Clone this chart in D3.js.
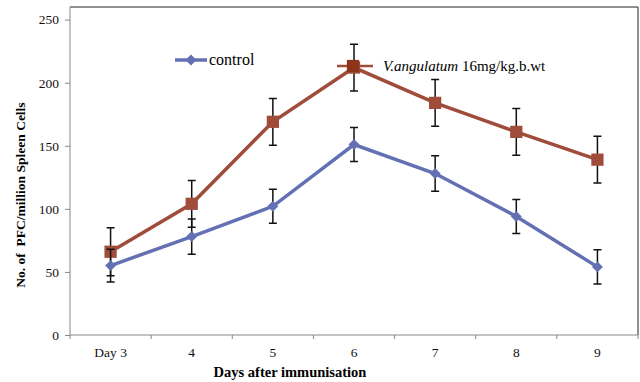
<!DOCTYPE html>
<html>
<head>
<meta charset="utf-8">
<script src="https://cdn.jsdelivr.net/npm/d3@7"></script>
<style>
  body { margin: 0; background: #fff; }
  svg text { font-family: "Liberation Serif", "DejaVu Serif", serif !important; }
</style>
</head>
<body>
<div id="chart"></div>
<script>
// data
const days = ['Day 3', '4', '5', '6', '7', '8', '9'];
const controlVals = [55, 78, 102, 151, 128, 94, 54];
const controlErr = [13, 14, 13.5, 13.5, 14, 13.5, 13.5];
const treatVals = [66, 104, 169, 212, 184, 161, 139];
const treatErr = [19, 18.5, 18.5, 18.5, 18.5, 18.5, 18.5];
const yTicks = [0, 50, 100, 150, 200, 250];

const width = 640, height = 382;
const margin = {top: 7, right: 2, bottom: 47, left: 70};
const graphWidth = width - margin.left - margin.right;
const graphHeight = height - margin.top - margin.bottom;

const serif = '"Liberation Serif", serif';
const blue = '#6470b4';
const brown = '#a04c3a';

const svg = d3.select('#chart')
  .append('svg')
  .attr('width', width)
  .attr('height', height)
  .attr('font-family', serif);

const graph = svg.append('g')
  .attr('transform', `translate(${margin.left}, ${margin.top})`);

// scales
const x = d3.scaleBand().domain(days).range([0, graphWidth]);
const y = d3.scaleLinear().domain([0, 260]).range([graphHeight, 0]);

// frame (top + right)
graph.append('path')
  .attr('d', `M0,0H${graphWidth}V${graphHeight}`)
  .attr('fill', 'none')
  .attr('stroke', '#222')
  .attr('stroke-width', 1);

// axes
const xAxis = d3.axisBottom(x).tickSize(0).tickPadding(12);
const yAxis = d3.axisLeft(y).tickValues(yTicks).tickSize(5).tickPadding(6);

const xAxisGroup = graph.append('g')
  .attr('transform', `translate(0, ${graphHeight})`)
  .call(xAxis)
  .attr('font-family', serif);
xAxisGroup.select('.domain').attr('stroke', '#888').attr('d', `M0,0H${graphWidth}`);
xAxisGroup.selectAll('text').attr('font-size', 13.5).attr('fill', '#111');

// band boundary ticks
graph.append('g')
  .selectAll('line')
  .data(d3.range(days.length + 1))
  .enter()
  .append('line')
    .attr('x1', i => i * x.step())
    .attr('x2', i => i * x.step())
    .attr('y1', graphHeight)
    .attr('y2', graphHeight + 4)
    .attr('stroke', '#888');

const yAxisGroup = graph.append('g').call(yAxis).attr('font-family', serif);
yAxisGroup.select('.domain').attr('stroke', '#888').attr('d', `M0,0V${graphHeight}`);
yAxisGroup.selectAll('.tick line').attr('stroke', '#888');
yAxisGroup.selectAll('text').attr('font-size', 13.5).attr('fill', '#111');

// axis titles
svg.append('text')
  .attr('x', 290)
  .attr('y', 377)
  .attr('text-anchor', 'middle')
  .attr('font-size', 14.5)
  .attr('font-weight', 'bold')
  .text('Days after immunisation');

svg.append('text')
  .attr('transform', 'translate(25, 195) rotate(-90)')
  .attr('text-anchor', 'middle')
  .attr('font-size', 13.5)
  .attr('font-weight', 'bold')
  .style('white-space', 'pre')
  .text('No. of  PFC/million Spleen Cells');

const cx = (d, i) => x(days[i]) + x.bandwidth() / 2;

// rotated square for the control series
const diamond = d3.symbol().type(d3.symbolSquare).size(60);

const drawSeries = (vals, errs, color, isSquare) => {
  const line = d3.line()
    .x((d, i) => cx(d, i))
    .y(d => y(d));

  graph.append('path')
    .datum(vals)
    .attr('fill', 'none')
    .attr('stroke', color)
    .attr('stroke-width', 3.5)
    .attr('d', line);

  // error bars
  const eb = graph.append('g');
  vals.forEach((v, i) => {
    const px = cx(v, i);
    const top = y(v + errs[i]), bot = y(v - errs[i]);
    eb.append('path')
      .attr('d', `M${px},${top}V${bot}M${px - 4},${top}H${px + 4}M${px - 4},${bot}H${px + 4}`)
      .attr('stroke', '#111')
      .attr('stroke-width', 1.5)
      .attr('fill', 'none');
  });

  graph.append('g')
    .selectAll('path')
    .data(vals)
    .enter()
    .append('path')
      .attr('transform', (d, i) => isSquare
        ? `translate(${cx(d, i)}, ${y(d)})`
        : `translate(${cx(d, i)}, ${y(d)}) rotate(45)`)
      .attr('d', isSquare ? d3.symbol().type(d3.symbolSquare).size(150) : diamond)
      .attr('fill', color);
};

drawSeries(treatVals, treatErr, brown, true);
drawSeries(controlVals, controlErr, blue, false);

// legend
const legend = svg.append('g');
legend.append('line')
  .attr('x1', 175).attr('x2', 207).attr('y1', 60).attr('y2', 60)
  .attr('stroke', blue).attr('stroke-width', 3.5);
legend.append('path')
  .attr('transform', 'translate(191, 60) rotate(45)')
  .attr('d', diamond)
  .attr('fill', blue);
legend.append('text')
  .attr('x', 209).attr('y', 65)
  .attr('font-size', 16)
  .text('control');

legend.append('line')
  .attr('x1', 337).attr('x2', 373).attr('y1', 66).attr('y2', 66)
  .attr('stroke', brown).attr('stroke-width', 2.5);
legend.append('path')
  .attr('transform', 'translate(353, 66)')
  .attr('d', d3.symbol().type(d3.symbolSquare).size(150))
  .attr('fill', '#8e3418');
const lt = legend.append('text')
  .attr('x', 383).attr('y', 71)
  .attr('font-size', 15);
lt.append('tspan').attr('font-style', 'italic').text('V.angulatum');
lt.append('tspan').text(' 16mg/kg.b.wt');
</script>
</body>
</html>
